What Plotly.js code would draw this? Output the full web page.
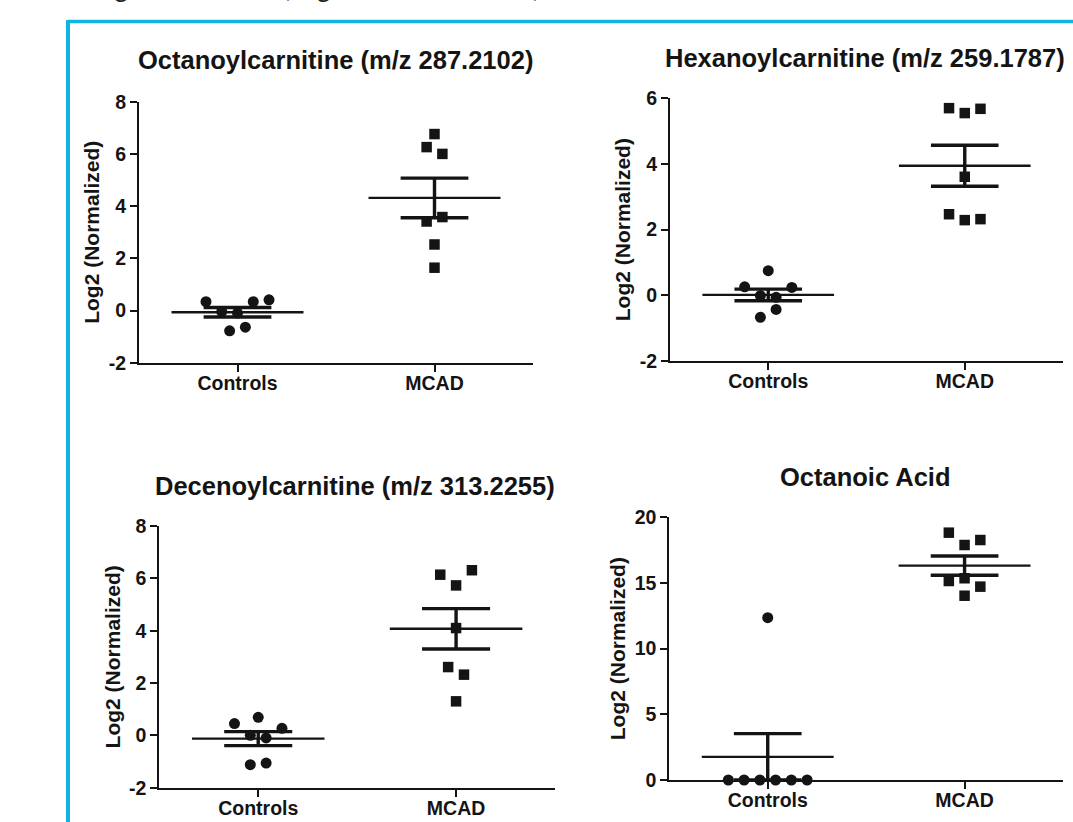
<!DOCTYPE html>
<html>
<head>
<meta charset="utf-8">
<script src="https://cdn.plot.ly/plotly-3.0.1.min.js"></script>
<style>
  html, body { margin: 0; padding: 0; background: #ffffff; }
  #chart { width: 1073px; height: 822px; }
</style>
</head>
<body>
<div id="chart"></div>
<script>
// Group labels shared by every panel
const groups = ['Controls', 'MCAD'];
const yTitle = 'Log2 (Normalized)';

// Octanoylcarnitine (m/z 287.2102)
const octanoylcarnitineControls = [0.34, 0.34, 0.41, -0.04, -0.10, -0.78, -0.64];
const octanoylcarnitineMCAD = [6.76, 6.26, 6.00, 3.41, 3.58, 2.53, 1.64];
const octanoylcarnitineTicks = [-2, 0, 2, 4, 6, 8];

// Hexanoylcarnitine (m/z 259.1787)
const hexanoylcarnitineControls = [0.75, 0.26, 0.24, -0.01, -0.06, -0.43, -0.67];
const hexanoylcarnitineMCAD = [5.70, 5.55, 5.68, 3.61, 2.47, 2.29, 2.32];
const hexanoylcarnitineTicks = [-2, 0, 2, 4, 6];

// Decenoylcarnitine (m/z 313.2255)
const decenoylcarnitineControls = [0.45, 0.69, 0.27, 0.00, -0.10, -1.12, -1.06];
const decenoylcarnitineMCAD = [6.14, 6.31, 5.73, 4.10, 2.61, 2.32, 1.30];
const decenoylcarnitineTicks = [-2, 0, 2, 4, 6, 8];

// Octanoic acid
const octanoicAcidControls = [12.36, 0, 0, 0, 0, 0, 0];
const octanoicAcidMCAD = [18.83, 17.89, 18.27, 15.36, 15.15, 14.72, 14.03];
const octanoicAcidTicks = [0, 5, 10, 15, 20];

// Column slot of each dot (scatter-dot arrangement, in symbol widths)
const octanoylcarnitineControlsSlot = [-2, 1, 2, -1, 0, -0.5, 0.5];
const octanoylcarnitineMCADSlot = [0, -0.5, 0.5, -0.5, 0.5, 0, 0];
const hexanoylcarnitineControlsSlot = [0, -1.5, 1.5, -0.5, 0.5, 0.5, -0.5];
const hexanoylcarnitineMCADSlot = [-1, 0, 1, 0, -1, 0, 1];
const decenoylcarnitineControlsSlot = [-1.5, 0, 1.5, -0.5, 0.5, -0.5, 0.5];
const decenoylcarnitineMCADSlot = [-1, 1, 0, 0, -0.5, 0.5, 0];
const octanoicAcidControlsSlot = [0, -2.5, -1.5, -0.5, 0.5, 1.5, 2.5];
const octanoicAcidMCADSlot = [-1, 0, 1, 0, -1, 1, 0];

// ---------------------------------------------------------------------------
const W = 1073, H = 822;
const INK = '#141414';
const FONT = 'Liberation Sans, Arial, Helvetica, sans-serif';
const SLOT = 0.08;        // x-units per symbol width
const MEAN_HALF = 0.335;  // half length of the mean bar
const SEM_HALF = 0.172;   // half length of the SEM caps

const panels = [
  { title: 'Octanoylcarnitine (m/z 287.2102)', ctrl: octanoylcarnitineControls, mcad: octanoylcarnitineMCAD,
    ctrlSlot: octanoylcarnitineControlsSlot, mcadSlot: octanoylcarnitineMCADSlot, ticks: octanoylcarnitineTicks,
    box: { l: 139, r: 533, t: 101.7, b: 362.7 }, head: { x: 335.5, y: 60 } },
  { title: 'Hexanoylcarnitine (m/z 259.1787)', ctrl: hexanoylcarnitineControls, mcad: hexanoylcarnitineMCAD,
    ctrlSlot: hexanoylcarnitineControlsSlot, mcadSlot: hexanoylcarnitineMCADSlot, ticks: hexanoylcarnitineTicks,
    box: { l: 670, r: 1063, t: 98.3, b: 361 }, head: { x: 865, y: 58 } },
  { title: 'Decenoylcarnitine (m/z 313.2255)', ctrl: decenoylcarnitineControls, mcad: decenoylcarnitineMCAD,
    ctrlSlot: decenoylcarnitineControlsSlot, mcadSlot: decenoylcarnitineMCADSlot, ticks: decenoylcarnitineTicks,
    box: { l: 159.3, r: 555, t: 526, b: 787.7 }, head: { x: 355, y: 486 } },
  { title: 'Octanoic Acid', ctrl: octanoicAcidControls, mcad: octanoicAcidMCAD,
    ctrlSlot: octanoicAcidControlsSlot, mcadSlot: octanoicAcidMCADSlot, ticks: octanoicAcidTicks,
    box: { l: 669.3, r: 1063, t: 517.3, b: 780 }, head: { x: 865, y: 477.4 } }
];

function mean(a) { return a.reduce((s, v) => s + v, 0) / a.length; }
function sem(a) {
  const m = mean(a);
  const v = a.reduce((s, x) => s + (x - m) * (x - m), 0) / (a.length - 1);
  return Math.sqrt(v) / Math.sqrt(a.length);
}

const traces = [];
const layout = {
  width: W, height: H,
  margin: { l: 0, r: 0, t: 0, b: 0 },
  paper_bgcolor: '#ffffff', plot_bgcolor: 'rgba(0,0,0,0)',
  showlegend: false,
  annotations: [],
  shapes: [
    // frame lines in cyan along the top and left
    { type: 'line', xref: 'paper', yref: 'paper', x0: 68 / W, x1: 1, y0: 1 - 21.5 / H, y1: 1 - 21.5 / H,
      line: { color: '#0fb4e2', width: 3.5 } },
    { type: 'line', xref: 'paper', yref: 'paper', x0: 68 / W, x1: 68 / W, y0: 0, y1: 1 - 20 / H,
      line: { color: '#0fb4e2', width: 4 } }
  ]
};

// caption running above the frame (only its lower edge falls inside the page)
layout.annotations.push({
  xref: 'paper', yref: 'paper', x: 78 / W, y: 1 - 5 / H, xanchor: 'left', yanchor: 'bottom',
  text: 'Targeted markers (Log2 normalized data)', showarrow: false,
  font: { family: 'Lato, Open Sans, sans-serif', size: 26, color: '#222222' }
});

panels.forEach((p, i) => {
  const n = i === 0 ? '' : String(i + 1);
  const xa = 'x' + n, ya = 'y' + n;
  const yr = [p.ticks[0], p.ticks[p.ticks.length - 1]];

  [[p.ctrl, p.ctrlSlot, 0, 'circle', 11], [p.mcad, p.mcadSlot, 1, 'square', 10.5]].forEach(([vals, slots, g, sym, size]) => {
    const m = mean(vals), s = sem(vals);
    // mean bar and SEM whiskers
    traces.push({
      type: 'scatter', mode: 'lines', xaxis: xa, yaxis: ya, cliponaxis: false, hoverinfo: 'skip',
      x: [g - MEAN_HALF, g + MEAN_HALF], y: [m, m],
      line: { color: INK, width: 2.3 }
    });
    traces.push({
      type: 'scatter', mode: 'lines', xaxis: xa, yaxis: ya, cliponaxis: false, hoverinfo: 'skip',
      x: [g - SEM_HALF, g + SEM_HALF, null, g - SEM_HALF, g + SEM_HALF, null, g, g],
      y: [m + s, m + s, null, m - s, m - s, null, m - s, m + s],
      line: { color: INK, width: 3.4 }
    });
    // individual samples
    traces.push({
      type: 'scatter', mode: 'markers', xaxis: xa, yaxis: ya, cliponaxis: false,
      name: groups[g],
      x: slots.map(k => g + k * SLOT), y: vals,
      marker: { symbol: sym, size: size, color: INK, line: { width: 0 } }
    });
  });

  const axisCommon = {
    showline: true, linewidth: 2, linecolor: INK, mirror: false,
    ticks: 'outside', ticklen: 7, tickwidth: 2, tickcolor: INK,
    showgrid: false, zeroline: false, fixedrange: true
  };
  layout['xaxis' + n] = Object.assign({}, axisCommon, {
    anchor: ya, domain: [p.box.l / W, p.box.r / W], range: [-0.5, 1.5],
    tickvals: [0, 1], ticktext: groups, ticklabelstandoff: -5,
    tickfont: { family: FONT, size: 19.5, color: INK, weight: 700 }
  });
  layout['yaxis' + n] = Object.assign({}, axisCommon, {
    anchor: xa, domain: [1 - p.box.b / H, 1 - p.box.t / H], range: yr,
    tickvals: p.ticks, ticktext: p.ticks.map(v => String(v)),
    tickfont: { family: FONT, size: 19.5, color: INK, weight: 700 },
    title: { text: yTitle, standoff: 3, font: { family: FONT, size: 21, color: INK, weight: 700 } }
  });

  layout.annotations.push({
    xref: 'paper', yref: 'paper', x: p.head.x / W, y: 1 - p.head.y / H,
    xanchor: 'center', yanchor: 'middle', showarrow: false, text: p.title,
    font: { family: FONT, size: 25.5, color: INK, weight: 700 }
  });
});

Plotly.newPlot('chart', traces, layout, { staticPlot: true, displayModeBar: false });
</script>
</body>
</html>
